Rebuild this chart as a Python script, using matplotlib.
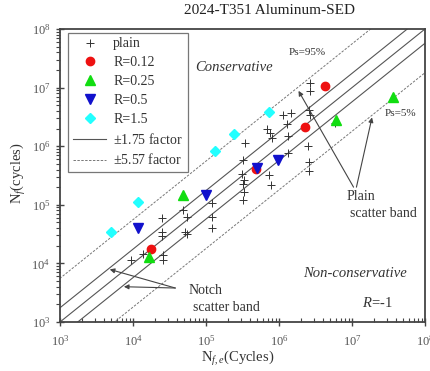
import matplotlib
matplotlib.use('Agg')
import matplotlib.pyplot as plt
import numpy as np

plt.rcParams['font.family'] = 'Liberation Serif'
plt.rcParams['mathtext.fontset'] = 'custom'
plt.rcParams['mathtext.rm'] = 'Liberation Serif'
plt.rcParams['mathtext.it'] = 'Liberation Serif:italic'

# experimental life vs SED-estimated life (cycles)
plain_est = [9.4e3, 1.37e4, 2.5e4, 2.5e4, 2.5e4, 2.58e4, 2.58e4, 4.84e4, 5.5e4, 5.15e4,
             5.5e4, 1.21e5, 1.21e5, 1.21e5, 3.42e5, 3.21e5, 3.11e5, 3.32e5, 3.21e5, 3.32e5,
             3.21e5, 6.85e5, 7.53e5, 8.02e5, 7.29e5, 7.76e5, 1.13e6, 1.46e6, 1.29e6, 1.33e6,
             1.33e6, 2.66e6, 2.66e6, 2.58e6, 2.66e6, 2.5e6, 2.58e6, 5.85e6, 2.58e6]
plain_exp = [1.14e4, 1.45e4, 5.96e4, 3.44e4, 2.94e4, 1.39e4, 1.14e4, 8.15e4, 6.2e4, 3.44e4,
             3.18e4, 1.07e5, 6.2e4, 4.02e4, 1.13e6, 5.82e5, 3.36e5, 2.65e5, 2.26e5, 1.65e5,
             1.21e5, 1.97e6, 1.68e6, 1.38e6, 3.23e5, 2.18e5, 3.40e6, 3.69e6, 2.39e6, 1.49e6,
             7.66e5, 1.2e7, 8.75e6, 4.15e6, 3.40e6, 1.01e6, 5.37e5, 2.49e6, 3.78e5]

r012_est = [1.77e4, 4.84e5, 2.27e6, 4.27e6]
r012_exp = [1.76e4, 4.08e5, 2.13e6, 1.06e7]
r025_est = [1.66e4, 4.84e4, 6.04e6, 3.65e7]
r025_exp = [1.29e4, 1.47e5, 2.80e6, 6.92e6]
r05_est = [1.17e4, 1.0e5, 5.0e5, 9.69e5]
r05_exp = [4.02e4, 1.47e5, 4.25e5, 5.82e5]
r15_est = [5.0e3, 1.17e4, 1.33e5, 2.42e5, 7.29e5]
r15_exp = [3.44e4, 1.12e5, 8.28e5, 1.61e6, 3.84e6]

band_in = 1.75
band_out = 5.57

fig = plt.figure(figsize=(4.3, 3.71), dpi=100)
ax = fig.add_axes([60/430, 1 - 322/371, 365/430, 293/371])

xx = np.array([1e2, 1e9])
lc = '#555555'
ax.plot(xx, xx * band_in, '-', color=lc, lw=0.8, label=r'$\pm$1.75 factor')
ax.plot(xx, xx, '-', color=lc, lw=0.8)
ax.plot(xx, xx / band_in, '-', color=lc, lw=0.8)
ax.plot(xx, xx * band_out, '--', color='#777777', lw=0.7, dashes=(2.5, 1.5), label=r'$\pm$5.57 factor')
ax.plot(xx, xx / band_out, '--', color='#777777', lw=0.7, dashes=(2.5, 1.5))

ax.plot(plain_est, plain_exp, '+', color='#333333', ms=6, mew=0.7, ls='none', label='plain')
ax.plot(r012_est, r012_exp, 'o', color='#ee1111', ms=6, ls='none', label='R=0.12')
ax.plot(r025_est, r025_exp, '^', color='#11dd11', ms=6.5, ls='none', label='R=0.25')
ax.plot(r05_est, r05_exp, 'v', color='#1111cc', ms=6.5, ls='none', label='R=0.5')
ax.plot(r15_est, r15_exp, 'D', color='#22ffff', ms=5, ls='none', label='R=1.5')

ax.set_xscale('log')
ax.set_yscale('log')
ax.set_xlim(1e3, 1e8)
ax.set_ylim(1e3, 1e8)

for s in ax.spines.values():
    s.set_color('#444444')
    s.set_linewidth(1.3)
ax.tick_params(axis='x', which='major', direction='inout', length=6, width=1, colors='#444444',
               labelsize=9, labelcolor='#555555', pad=6)
ax.tick_params(axis='x', which='minor', direction='in', length=3, width=0.8, colors='#444444')
ax.tick_params(axis='y', which='major', direction='inout', length=6, width=1, colors='#444444',
               labelsize=9, labelcolor='#555555', pad=4)
ax.tick_params(axis='y', which='minor', direction='out', length=3, width=0.8, colors='#444444')

handles, labels = ax.get_legend_handles_labels()
order = ['plain', 'R=0.12', 'R=0.25', 'R=0.5', 'R=1.5', r'$\pm$1.75 factor', r'$\pm$5.57 factor']
hmap = dict(zip(labels, handles))
leg = ax.legend([hmap[k] for k in order], order, loc='upper left', bbox_to_anchor=(0.022, 0.988),
                fontsize=10, frameon=True, fancybox=False, edgecolor='#777777', framealpha=1,
                labelspacing=0.42, handlelength=2.4, handletextpad=0.5, borderpad=0.35,
                borderaxespad=0)
leg.get_frame().set_linewidth(0.9)
for t in leg.get_texts():
    t.set_color('#333333')

tc = '#333333'
ax.text(0.37, 0.867, 'Conservative', transform=ax.transAxes, fontsize=10.5, style='italic',
        color=tc, ha='left', va='center')
ax.text(0.666, 0.167, 'Non-conservative', transform=ax.transAxes, fontsize=10.5, style='italic',
        color=tc, ha='left', va='center')
ax.text(0.827, 0.065, r'$R$=-1', transform=ax.transAxes, fontsize=10.5, color=tc,
        ha='left', va='center')
ax.text(0.677, 0.921, 'Ps=95%', transform=ax.transAxes, fontsize=8, color=tc, ha='center', va='center')
ax.text(0.932, 0.713, 'Ps=5%', transform=ax.transAxes, fontsize=8, color=tc, ha='center', va='center')
ax.text(0.786, 0.43, 'Plain', transform=ax.transAxes, fontsize=10, color=tc, ha='left', va='center')
ax.text(0.795, 0.372, 'scatter band', transform=ax.transAxes, fontsize=10, color=tc, ha='left', va='center')
ax.text(0.353, 0.106, 'Notch', transform=ax.transAxes, fontsize=10, color=tc, ha='left', va='center')
ax.text(0.364, 0.048, 'scatter band', transform=ax.transAxes, fontsize=10, color=tc, ha='left', va='center')

arr = dict(arrowstyle='-|>', color='#444444', lw=0.8, mutation_scale=7, shrinkA=0, shrinkB=0)
ax.annotate('', xy=(1.85e6, 8.8e6), xytext=(1.05e7, 2.0e5), arrowprops=arr)
ax.annotate('', xy=(1.88e7, 3.1e6), xytext=(1.15e7, 2.0e5), arrowprops=arr)
ax.annotate('', xy=(4.8e3, 7.9e3), xytext=(3.8e4, 3.8e3), arrowprops=arr)
ax.annotate('', xy=(7.5e3, 4.0e3), xytext=(3.8e4, 3.8e3), arrowprops=arr)

fig.text(270/430, 1 - 10/371, '2024-T351 Aluminum-SED', fontsize=11, color='#222222',
         ha='center', va='center')
fig.text(18/430, 1 - 173/371, r'N$_f$(cycles)', fontsize=10.5, color='#333333', rotation=90,
         ha='center', va='center')
fig.text(238/430, 1 - 358/371, r'N$_{f,e}$(Cycles)', fontsize=10.5, color='#333333',
         ha='center', va='center')

plt.savefig('out.png', dpi=100)
